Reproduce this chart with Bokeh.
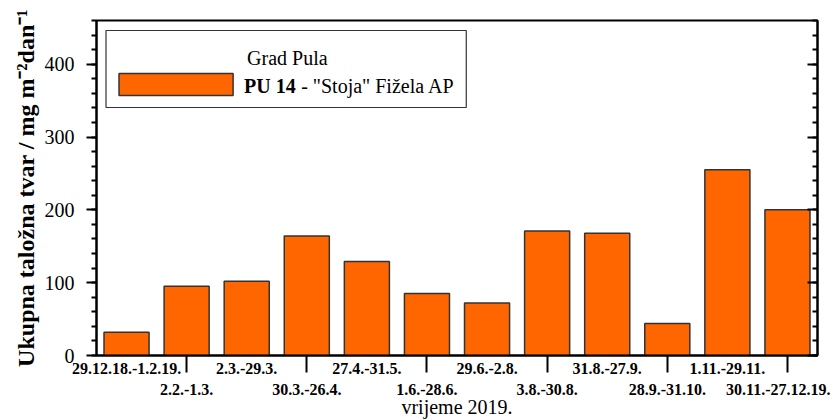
import numpy as np
from bokeh.plotting import figure
from bokeh.models import (Range1d, LinearAxis, FixedTicker,
                          ColumnDataSource, Label, BoxAnnotation)
from bokeh.embed import file_html
from bokeh.resources import INLINE

# ---- data ----
periods = ["29.12.18.-1.2.19.", "2.2.-1.3.", "2.3.-29.3.", "30.3.-26.4.",
           "27.4.-31.5.", "1.6.-28.6.", "29.6.-2.8.", "3.8.-30.8.",
           "31.8.-27.9.", "28.9.-31.10.", "1.11.-29.11.", "30.11.-27.12.19."]
deposit = [32, 95, 102, 164, 129, 85, 72, 171, 168, 44, 255, 200]
y_ticks = [0, 100, 200, 300, 400]
legend_title = "Grad Pula"
series_bold = "PU 14"
series_rest = '- "Stoja" Fižela AP'
x_title = "vrijeme 2019."
y_title = "Ukupna taložna tvar / mg m\u207b\u00b2dan\u207b\u00b9"

FONT = "Liberation Serif"
ORANGE = "#FF6600"

W, H = 830, 420
p = figure(width=W, height=H, output_backend="svg", toolbar_location=None,
           x_range=Range1d(0.5, len(periods) + 0.5), y_range=Range1d(0, 460),
           min_border_left=96, min_border_right=13, min_border_top=20,
           min_border_bottom=65, x_axis_location=None, y_axis_location=None)
p.xgrid.visible = False
p.ygrid.visible = False
p.outline_line_color = "black"
p.outline_line_width = 2
p.background_fill_color = "white"
p.border_fill_color = "white"

# helpers converting reference pixel positions into data coordinates
def dx(px):
    return 0.5 + (px - 96.5) / 60.04

def dy(py):
    return (355 - py) / 0.7283

xs = np.arange(1, len(periods) + 1)
src = ColumnDataSource(dict(x=xs, top=deposit))
p.vbar(x="x", top="top", width=0.75, source=src, fill_color=ORANGE,
       line_color="#333333", line_width=1.5)

minor = list(range(0, 461, 20))

# left axis
left = LinearAxis(ticker=FixedTicker(ticks=y_ticks, minor_ticks=minor))
left.axis_line_width = 2
left.major_tick_line_width = 2
left.minor_tick_line_width = 2
left.major_tick_out = 10
left.major_tick_in = 0
left.minor_tick_out = 5
left.minor_tick_in = 0
left.major_label_standoff = 12
left.major_label_text_font = FONT
left.major_label_text_font_size = "20px"
left.major_label_text_color = "black"
left.axis_label = y_title
left.axis_label_text_font = FONT
left.axis_label_text_font_style = "bold"
left.axis_label_text_font_size = "24px"
left.axis_label_text_color = "black"
left.axis_label_standoff = 3
p.add_layout(left, "left")

# right axis (ticks inward, no labels)
right = LinearAxis(ticker=FixedTicker(ticks=y_ticks, minor_ticks=minor))
right.axis_line_width = 2
right.major_tick_line_width = 2
right.minor_tick_line_width = 2
right.major_tick_out = 0
right.major_tick_in = 10
right.minor_tick_out = 0
right.minor_tick_in = 5
right.major_label_overrides = {t: "" for t in y_ticks}
p.add_layout(right, "right")

# bottom axis: labels at every period (staggered in two rows),
# tick marks (drawn as the "minor" ticks) at every second period
tick_pos = [int(v) for v in xs]
even_ticks = tick_pos[1::2]
bottom = LinearAxis(ticker=FixedTicker(ticks=tick_pos, minor_ticks=even_ticks))
bottom.axis_line_width = 2
bottom.major_tick_line_color = None
bottom.major_tick_out = 0
bottom.major_tick_in = 0
bottom.minor_tick_line_width = 2
bottom.minor_tick_line_color = "black"
bottom.minor_tick_out = 17
bottom.minor_tick_in = 0
bottom.major_label_overrides = {
    t: (lab if i % 2 == 0 else "\n" + lab) for i, (t, lab) in enumerate(zip(tick_pos, periods))
}
bottom.major_label_standoff = -13
bottom.major_label_text_font = FONT
bottom.major_label_text_font_style = "bold"
bottom.major_label_text_font_size = "16px"
bottom.major_label_text_line_height = 1.25
bottom.major_label_text_color = "black"
bottom.axis_label = x_title
bottom.axis_label_text_font = FONT
bottom.axis_label_text_font_style = "normal"
bottom.axis_label_text_font_size = "20px"
bottom.axis_label_text_color = "black"
bottom.axis_label_standoff = -5
p.add_layout(bottom, "below")

def label(x, y, text, size, bold=False):
    return Label(x=x, y=y, text=text, text_align="left",
                 text_baseline="middle", text_font=FONT,
                 text_font_style="bold" if bold else "normal",
                 text_font_size=size, text_color="black")

# legend box
p.add_layout(BoxAnnotation(left=dx(106), right=dx(466), top=dy(30), bottom=dy(107),
                           fill_color="white", fill_alpha=1, line_color="#333333",
                           line_width=1.2, line_alpha=1))
p.add_layout(BoxAnnotation(left=dx(119), right=dx(233), top=dy(73), bottom=dy(95),
                           fill_color=ORANGE, fill_alpha=1, line_color="#333333",
                           line_width=1.5, line_alpha=1))
p.add_layout(label(dx(247), dy(57), legend_title, "20px"))
p.add_layout(label(dx(244), dy(85), series_bold, "20px", True))
p.add_layout(label(dx(301), dy(85), series_rest, "20px"))

open("out.html", "w").write(file_html(p, INLINE))
